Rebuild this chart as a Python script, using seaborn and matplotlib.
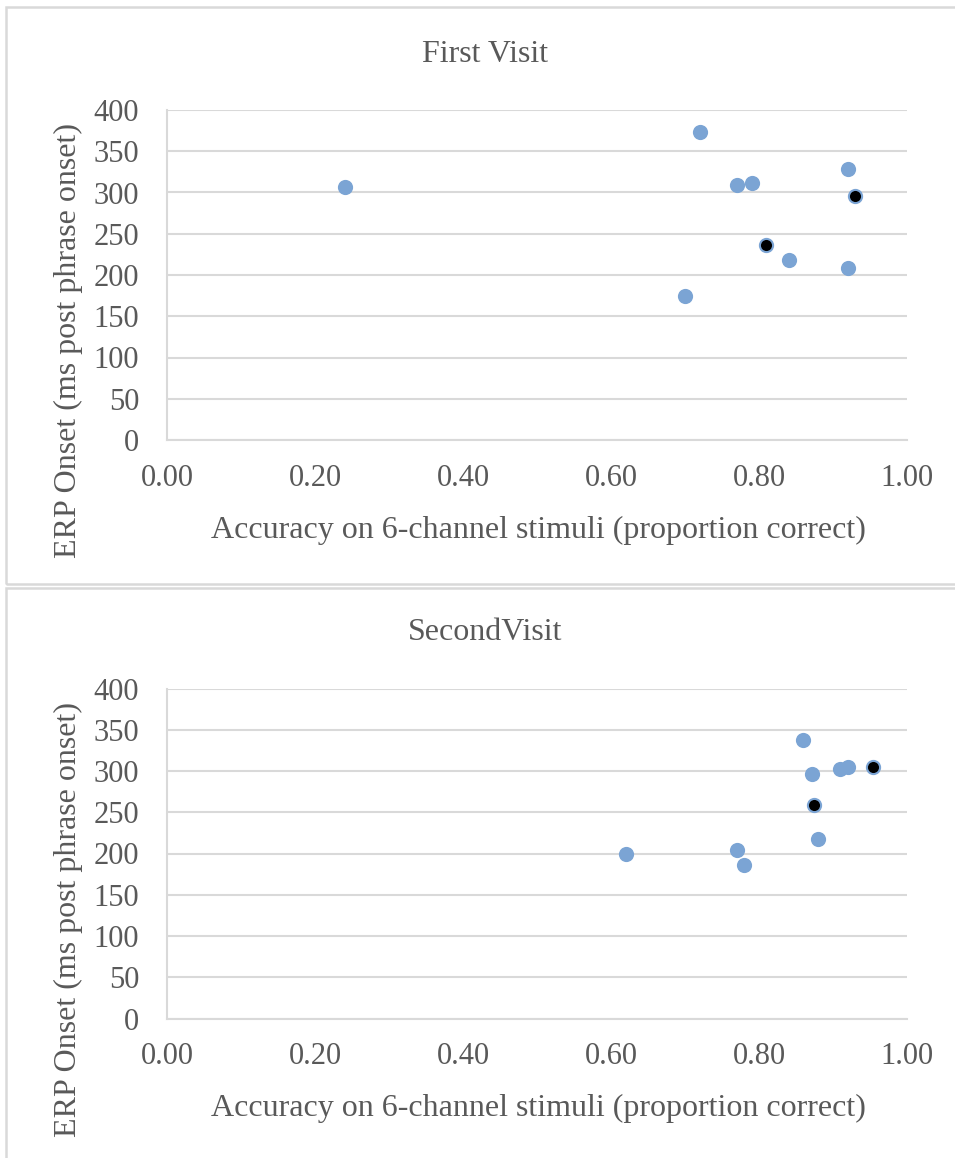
import matplotlib
matplotlib.use("Agg")
import matplotlib.pyplot as plt
import seaborn as sns
import pandas as pd
from matplotlib.patches import Rectangle

# ---- data ----
first_x = [0.24, 0.72, 0.77, 0.79, 0.92, 0.84, 0.92, 0.70]
first_y = [307, 373, 309, 312, 329, 218, 209, 174]
first_hl_x = [0.93, 0.81]
first_hl_y = [296, 236]

second_x = [0.86, 0.871, 0.91, 0.92, 0.88, 0.62, 0.77, 0.78]
second_y = [337, 296, 302, 305, 218, 200, 204, 186]
second_hl_x = [0.954, 0.874]
second_hl_y = [305, 259]

titles = ["First Visit", "SecondVisit"]
x_label = "Accuracy on 6-channel stimuli (proportion correct)"
y_label = "ERP Onset (ms post phrase onset)"
x_ticks = [0.0, 0.2, 0.4, 0.6, 0.8, 1.0]
y_ticks = [0, 50, 100, 150, 200, 250, 300, 350, 400]

sns.set_theme(style="white")
plt.rcParams["font.family"] = ["Liberation Serif", "DejaVu Serif"]

W, H = 955, 1158
fig = plt.figure(figsize=(W / 100, H / 100), dpi=100)

TEXT = "#595959"
GRID = "#D9D9D9"
BLUE = "#7BA4D4"
FS = 22
FS_T = 23

panels = [
    (first_x, first_y, first_hl_x, first_hl_y, 0),
    (second_x, second_y, second_hl_x, second_hl_y, 578.5),
]

for i, (xs, ys, hx, hy, off) in enumerate(panels):
    top_px = 110 + off
    bot_px = 440 + off
    ax = fig.add_axes([167 / W, 1 - bot_px / H, 740 / W, (bot_px - top_px) / H])
    df = pd.DataFrame({"x": xs, "y": ys})
    dfh = pd.DataFrame({"x": hx, "y": hy})
    sns.scatterplot(data=df, x="x", y="y", ax=ax, color=BLUE, s=120,
                    edgecolor=BLUE, linewidth=0, zorder=3)
    sns.scatterplot(data=dfh, x="x", y="y", ax=ax, color="black", s=90,
                    edgecolor=BLUE, linewidth=1.5, zorder=4)
    ax.set_xlim(0, 1)
    ax.set_ylim(0, 400)
    ax.set_xticks(x_ticks)
    ax.set_xticklabels([f"{t:.2f}" for t in x_ticks])
    ax.set_yticks(y_ticks)
    ax.set_yticklabels([str(t) for t in y_ticks])
    ax.tick_params(axis="both", length=0, labelsize=FS, labelcolor=TEXT)
    ax.tick_params(axis="y", pad=20)
    ax.tick_params(axis="x", pad=17)
    ax.yaxis.grid(True, color=GRID, linewidth=1.5)
    ax.xaxis.grid(False)
    ax.set_axisbelow(True)
    for side in ["top", "right"]:
        ax.spines[side].set_visible(False)
    for side in ["left", "bottom"]:
        ax.spines[side].set_color(GRID)
        ax.spines[side].set_linewidth(1.5)
    ax.set_xlabel("")
    ax.set_ylabel("")

    fig.text(485 / W, 1 - (54 + off) / H, titles[i], ha="center", va="center",
             fontsize=FS_T, color=TEXT)
    fig.text(538 / W, 1 - (530 + off) / H, x_label, ha="center", va="center",
             fontsize=FS_T, color=TEXT)
    fig.text(68 / W, 1 - (341 + off) / H, y_label, ha="center", va="center",
             rotation=90, fontsize=FS_T, color=TEXT)

# chart frames
fig.add_artist(Rectangle((6 / W, 1 - 584 / H), 970 / W, (584 - 7) / H,
                         transform=fig.transFigure, fill=False,
                         edgecolor=GRID, linewidth=1.8))
fig.add_artist(Rectangle((6 / W, 1 - 1175 / H), 970 / W, (1175 - 588) / H,
                         transform=fig.transFigure, fill=False,
                         edgecolor=GRID, linewidth=1.8))

fig.savefig("out.png", dpi=100, facecolor="white")
